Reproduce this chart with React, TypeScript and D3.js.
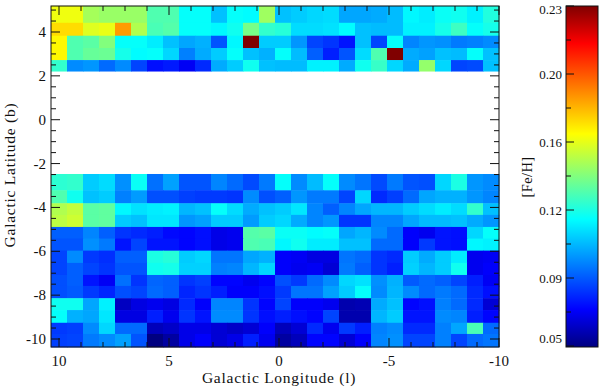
import React, { useRef, useEffect } from "react";
import * as d3 from "d3";

// [Fe/H] maps, 28 longitude columns (l = 10 side first), rows listed from the top down
const northRows = [
  [.161,.161,.148,.146,.146,.146,.133,.133,.120,.120,.108,.120,.119,.147,.108,.110,.112,.113,.103,.103,.104,.107,.118,.116,.121,.122,.117,.125],
  [.170,.170,.158,.160,.182,.150,.132,.134,.120,.120,.118,.122,.140,.128,.126,.113,.113,.114,.119,.108,.107,.107,.117,.117,.123,.130,.120,.123],
  [.165,.133,.135,.142,.120,.120,.116,.108,.103,.105,.088,.118,.230,.110,.110,.100,.085,.082,.076,.108,.085,.120,.097,.100,.099,.095,.096,.098],
  [.165,.133,.137,.138,.123,.119,.120,.112,.096,.104,.110,.120,.108,.105,.120,.107,.090,.078,.088,.113,.133,.230,.104,.102,.108,.107,.120,.108],
  [.128,.098,.100,.092,.098,.085,.075,.077,.071,.080,.104,.110,.122,.108,.107,.107,.117,.117,.104,.122,.129,.112,.104,.145,.112,.085,.086,.108],
];
const southRows = [
  [.127,.128,.110,.113,.099,.121,.093,.102,.088,.088,.097,.092,.086,.095,.120,.098,.107,.120,.098,.094,.086,.095,.088,.087,.112,.124,.100,.098],
  [.133,.122,.108,.110,.096,.101,.087,.087,.084,.083,.083,.082,.098,.087,.090,.100,.095,.095,.085,.112,.080,.084,.092,.103,.105,.105,.100,.097],
  [.150,.153,.135,.136,.118,.114,.116,.117,.106,.108,.120,.113,.104,.108,.110,.115,.097,.090,.097,.103,.106,.106,.110,.113,.116,.113,.128,.108],
  [.152,.155,.135,.136,.110,.108,.115,.115,.100,.102,.110,.110,.101,.110,.112,.104,.097,.100,.082,.082,.097,.097,.103,.107,.107,.108,.104,.100],
  [.090,.090,.097,.090,.082,.080,.078,.074,.073,.075,.069,.070,.134,.135,.121,.121,.119,.120,.103,.106,.098,.092,.072,.070,.076,.075,.112,.120],
  [.088,.088,.099,.095,.076,.085,.076,.076,.073,.075,.069,.070,.133,.132,.118,.122,.116,.116,.108,.108,.092,.092,.072,.083,.076,.075,.118,.117],
  [.085,.098,.083,.081,.090,.090,.124,.126,.110,.112,.094,.094,.103,.105,.072,.071,.068,.068,.094,.092,.082,.080,.110,.104,.110,.116,.070,.071],
  [.085,.090,.085,.082,.088,.088,.122,.123,.111,.111,.096,.097,.106,.112,.072,.070,.071,.066,.095,.090,.082,.078,.111,.106,.110,.122,.070,.072],
  [.087,.090,.076,.071,.093,.082,.091,.090,.082,.084,.073,.073,.070,.073,.087,.083,.092,.098,.112,.114,.099,.105,.089,.092,.090,.085,.078,.071],
  [.087,.089,.083,.079,.087,.085,.092,.090,.079,.082,.078,.072,.072,.075,.083,.094,.094,.102,.110,.120,.098,.106,.098,.092,.095,.092,.080,.075],
  [.122,.122,.103,.117,.063,.068,.070,.068,.080,.072,.097,.097,.082,.073,.085,.072,.072,.070,.060,.061,.104,.108,.073,.075,.096,.092,.080,.066],
  [.120,.105,.103,.115,.068,.068,.078,.070,.082,.076,.098,.098,.082,.075,.078,.075,.073,.085,.060,.060,.106,.110,.076,.076,.098,.097,.078,.073],
  [.083,.084,.098,.112,.092,.092,.062,.064,.069,.069,.066,.064,.066,.072,.062,.066,.080,.070,.083,.078,.096,.098,.080,.080,.096,.103,.132,.092],
  [.084,.085,.095,.098,.102,.088,.053,.058,.069,.072,.066,.069,.078,.070,.058,.062,.073,.073,.066,.072,.097,.099,.085,.085,.096,.085,.092,.094],
];
// latitude band edges, top to bottom
const northEdges = [5.19, 4.42, 3.83, 3.27, 2.72, 2.22];
const southEdges = [-2.475, -3.22, -3.81, -4.34, -4.89, -5.42, -5.97, -6.53, -7.08, -7.58, -8.14, -8.68, -9.26, -9.77, -10.36];

const lonLabels = [10, 5, 0, -5, -10];
const lonMinor = [10, 9, 8, 7, 6, 5, 4, 3, 2, 1, 0, -1, -2, -3, -4, -5, -6, -7, -8, -9, -10];
const latLabels = [4, 2, 0, -2, -4, -6, -8, -10];
const latMinor = [5, 4.5, 4, 3.5, 3, 2.5, 2, 1.5, 1, 0.5, 0, -0.5, -1, -1.5, -2, -2.5, -3, -3.5, -4, -4.5, -5, -5.5, -6, -6.5, -7, -7.5, -8, -8.5, -9, -9.5, -10];
const barMajor = [0.053, 0.0884, 0.1238, 0.1592, 0.1946, 0.23];
const barMinor = [0.0707, 0.1061, 0.1415, 0.1769, 0.2123];
const barLabels = ["0.05", "0.09", "0.12", "0.16", "0.20", "0.23"];

const jetStops = [0, 0.11, 0.375, 0.625, 0.89, 1];
const jetColors = ["#000080", "#0000ff", "#00ffff", "#ffff00", "#ff0000", "#800000"];
const fontFamily = "'Liberation Serif', serif";

function App() {
  const svgRef = useRef(null);

  useEffect(() => {
    const svg = d3.select(svgRef.current);
    svg.selectAll("*").remove();

    const margin = { left: 51, right: 499, top: 6, bottom: 347 };
    const x = d3.scaleLinear().domain([10, -10]).range([59, 499]);
    const y = d3.scaleLinear().domain([4, -10]).range([32, 339]);
    const col = d3.scaleBand().domain(d3.range(28)).range([margin.left, margin.right]);
    const norm = d3.scaleLinear().domain([0.053, 0.23]).range([0, 1]);
    const jet = d3.scaleLinear().domain(jetStops).range(jetColors).clamp(true);
    const bar = d3.scaleLinear().domain([0.053, 0.23]).range([346, 6]);

    const drawRows = (rows, edges) => {
      rows.forEach((row, i) => {
        svg.append("g")
          .selectAll("rect")
          .data(row)
          .join("rect")
          .attr("x", (d, j) => col(j))
          .attr("y", y(edges[i]))
          .attr("width", col.bandwidth() + 0.5)
          .attr("height", y(edges[i + 1]) - y(edges[i]) + 0.5)
          .attr("fill", (d) => jet(norm(d)));
      });
    };
    drawRows(northRows, northEdges);
    drawRows(southRows, southEdges);

    // frame and ticks
    svg.append("rect")
      .attr("x", margin.left).attr("y", margin.top)
      .attr("width", margin.right - margin.left).attr("height", margin.bottom - margin.top)
      .attr("fill", "none").attr("stroke", "#111").attr("stroke-width", 1);

    const tick = (x1, y1, x2, y2) =>
      svg.append("line").attr("x1", x1).attr("y1", y1).attr("x2", x2).attr("y2", y2)
        .attr("stroke", "#111").attr("stroke-width", 1);

    lonMinor.forEach((d) => {
      const len = lonLabels.includes(d) ? 9 : 5;
      tick(x(d), margin.bottom, x(d), margin.bottom - len);
      tick(x(d), margin.top, x(d), margin.top + len);
    });
    latMinor.forEach((d) => {
      const len = latLabels.includes(d) ? 9 : 5;
      tick(margin.left, y(d), margin.left + len, y(d));
      tick(margin.right, y(d), margin.right - len, y(d));
    });

    const text = (s, px, py, size, anchor = "middle") =>
      svg.append("text").attr("x", px).attr("y", py).attr("text-anchor", anchor)
        .attr("font-family", fontFamily).attr("font-size", size).attr("fill", "#111").text(s);

    lonLabels.forEach((d) => text(d, x(d), 366, 15));
    latLabels.forEach((d) => text(d, 46, y(d) + 5, 15, "end"));
    text("Galactic Longitude (l)", 279, 382.5, 15.5).attr("letter-spacing", 0.75);
    text("Galactic Latitude (b)", 0, 0, 15.5)
      .attr("letter-spacing", 0.75)
      .attr("transform", "translate(15,175) rotate(-90)");

    // colour bar
    const grad = svg.append("defs").append("linearGradient")
      .attr("id", "jet").attr("x1", 0).attr("y1", 1).attr("x2", 0).attr("y2", 0);
    jetStops.forEach((s, i) => {
      grad.append("stop").attr("offset", s).attr("stop-color", jetColors[i]);
    });
    svg.append("rect")
      .attr("x", 566).attr("y", 6).attr("width", 32).attr("height", 341)
      .attr("fill", "url(#jet)").attr("stroke", "#111").attr("stroke-width", 1);
    barMajor.forEach((d, i) => {
      tick(566, bar(d), 574, bar(d));
      const shift = i === 0 ? -3 : i === barMajor.length - 1 ? 8 : 5;
      text(barLabels[i], 562, bar(d) + shift, 13, "end");
    });
    barMinor.forEach((d) => tick(566, bar(d), 571, bar(d)));
    text("[Fe/H]", 0, 0, 14.5)
      .attr("transform", "translate(532,177) rotate(-90)")
      .attr("letter-spacing", 0.4);
  }, []);

  return (
    <svg ref={svgRef} width={600} height={389} style={{ position: "absolute", left: 0, top: 0 }}></svg>
  );
}

export default App;
